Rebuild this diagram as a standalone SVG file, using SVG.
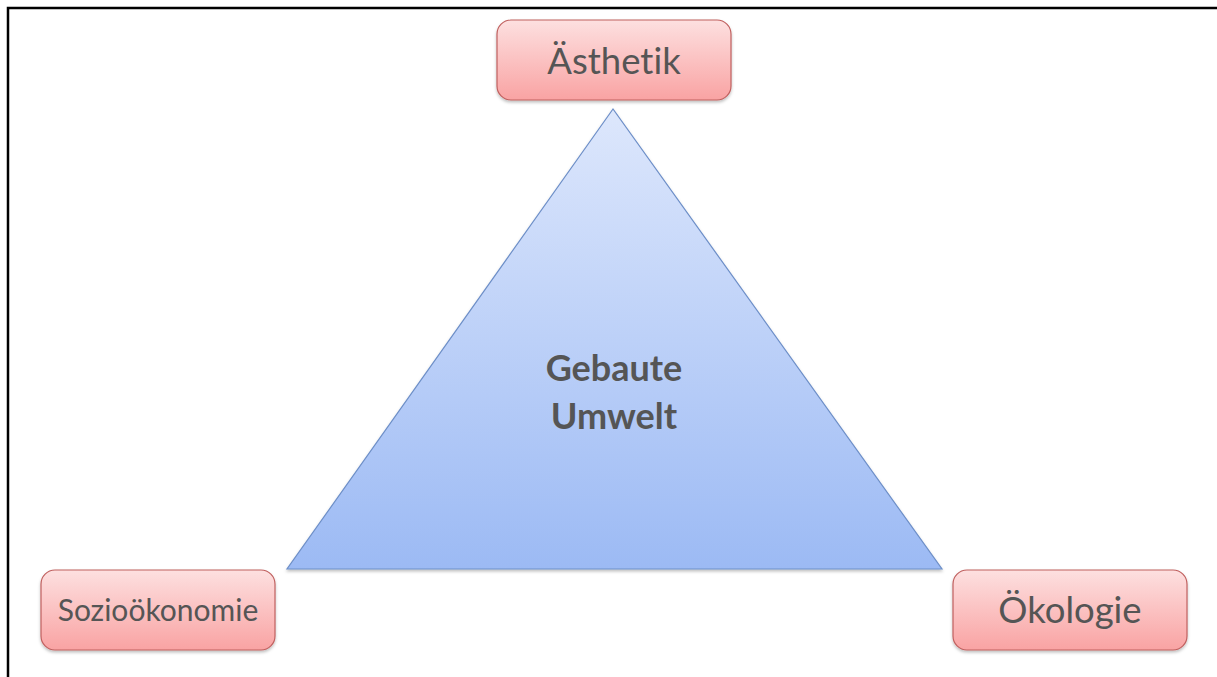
<svg xmlns="http://www.w3.org/2000/svg" width="1217" height="677" viewBox="0 0 1217 677">
<defs>
<linearGradient id="pink" x1="0" y1="0" x2="0" y2="1">
<stop offset="0" stop-color="#fde0e0"/>
<stop offset="1" stop-color="#f9a3a3"/>
</linearGradient>
<linearGradient id="blue" x1="0" y1="0" x2="0" y2="1">
<stop offset="0" stop-color="#dde7fc"/>
<stop offset="1" stop-color="#9cbaf4"/>
</linearGradient>
<filter id="sh" x="-10%" y="-10%" width="120%" height="130%">
<feDropShadow dx="0" dy="2" stdDeviation="1.5" flood-color="#000" flood-opacity="0.25"/>
</filter>
</defs>
<style>
.box{fill:url(#pink);stroke:#c0605f;stroke-width:1.2;filter:url(#sh)}
.lbl{font-family:Lato,"Open Sans",sans-serif;fill:#555555;text-anchor:middle;font-variant-ligatures:none}
</style>
<rect width="1217" height="677" fill="#ffffff"/>
<path d="M8 677 V8 H1217" fill="none" stroke="#000" stroke-width="2.5"/>
<g id="triangle">
<polygon points="613,109 287,569 942,569" fill="url(#blue)" stroke="#6d8fc8" stroke-width="1.2" filter="url(#sh)"/>
<text class="lbl" x="614" y="381" font-size="36" font-weight="bold">Gebaute</text>
<text class="lbl" x="614" y="429" font-size="36" font-weight="bold">Umwelt</text>
</g>
<g id="aesthetik">
<rect class="box" x="497" y="20" width="234" height="80" rx="14"/>
<text class="lbl" x="614" y="74" font-size="36.5">Ästhetik</text>
</g>
<g id="soziooekonomie">
<rect class="box" x="41" y="570" width="234" height="80" rx="14"/>
<text class="lbl" x="158" y="621" font-size="30">Sozioökonomie</text>
</g>
<g id="oekologie">
<rect class="box" x="953" y="570" width="234" height="80" rx="14"/>
<text class="lbl" x="1070" y="623" font-size="36.5">Ökologie</text>
</g>
<g id="connectors"/>
</svg>
